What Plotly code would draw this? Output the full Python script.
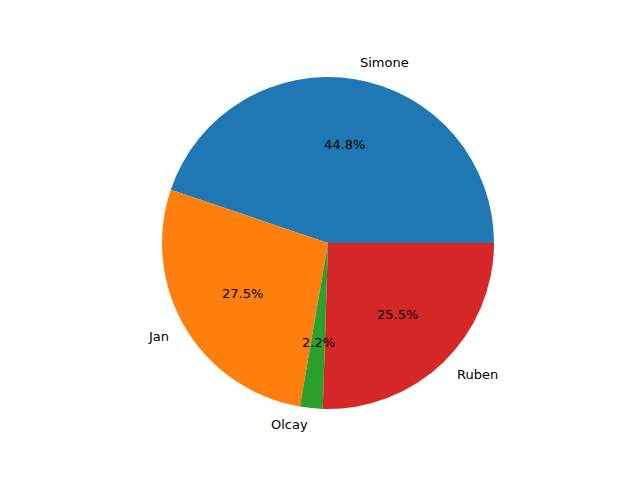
import math
import plotly.graph_objects as go

labels = ["Simone", "Jan", "Olcay", "Ruben"]
values = [44.8, 27.5, 2.2, 25.5]
colors = ["#1f77b4", "#ff7f0e", "#2ca02c", "#d62728"]

W, H = 640, 480
# page has an 8px body margin; figure-space center/radius
cx, cy, r = 320, 235, 166

dx0, dx1 = (cx - r) / W, (cx + r) / W
dy0, dy1 = (H - cy - r) / H, (H - cy + r) / H

total = sum(values)
rotation = 90 - 360 * values[0] / total

fig = go.Figure(go.Pie(
    labels=labels, values=values, sort=False,
    direction="counterclockwise", rotation=rotation,
    marker=dict(colors=colors, line=dict(width=0)),
    textinfo="none", hoverinfo="label+percent",
    domain=dict(x=[dx0, dx1], y=[dy0, dy1]),
    showlegend=False,
))

annots = []
start = 0.0
font = dict(family="DejaVu Sans", size=13, color="black")
for lab, v in zip(labels, values):
    frac = v / total
    mid = math.radians((start + frac / 2) * 360)
    start += frac
    ux, uy = math.cos(mid), math.sin(mid)
    lx = (cx + 1.1 * r * ux) / W
    ly = (H - cy + 1.1 * r * uy) / H
    annots.append(dict(x=lx, y=ly, xref="paper", yref="paper", text=lab,
                       showarrow=False, font=font,
                       xanchor="left" if ux > 0 else "right", yanchor="middle"))
    px = (cx + 0.6 * r * ux) / W
    py = (H - cy + 0.6 * r * uy) / H
    annots.append(dict(x=px, y=py, xref="paper", yref="paper",
                       text=f"{100 * frac:.1f}%", showarrow=False, font=font,
                       xanchor="center", yanchor="middle"))

fig.update_layout(
    width=W, height=H,
    margin=dict(l=0, r=0, t=0, b=0),
    paper_bgcolor="white", plot_bgcolor="white",
    annotations=annots,
)
fig.write_html("out.html")
